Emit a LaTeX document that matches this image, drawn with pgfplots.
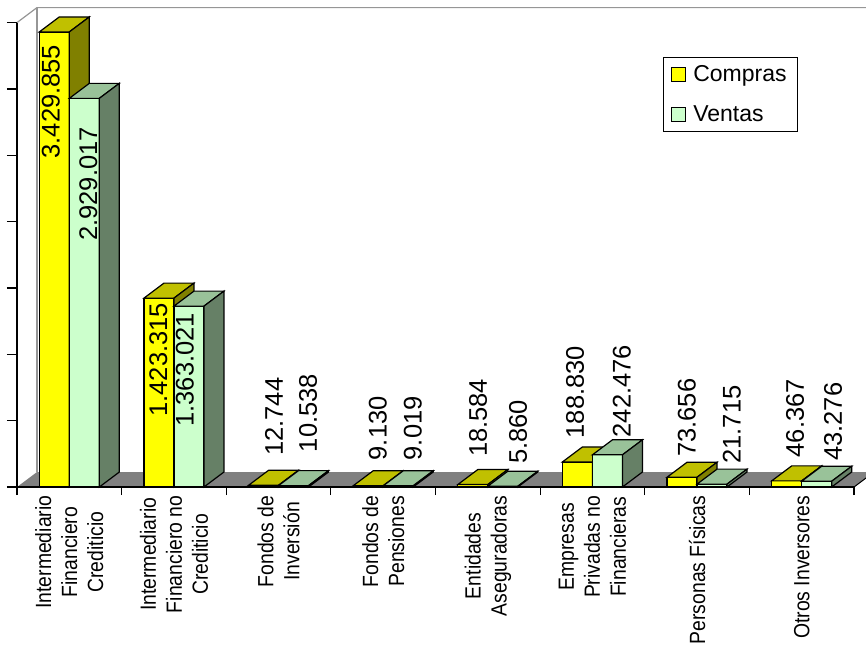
\documentclass[border=0pt]{standalone}
\usepackage{pgfplots}
\pgfplotsset{compat=1.18}
\usepackage{pgfplotstable}
\usepackage{fontspec}
\setmainfont{Liberation Sans}
\newfontfamily\narrowfont[FakeStretch=0.88]{Liberation Sans}

\definecolor{yfront}{RGB}{255,255,0}
\definecolor{ytop}{RGB}{192,192,0}
\definecolor{yside}{RGB}{128,128,0}
\definecolor{gfront}{RGB}{204,255,204}
\definecolor{gtop}{RGB}{153,194,153}
\definecolor{gside}{RGB}{102,128,102}
\definecolor{floorgray}{RGB}{128,128,128}
\definecolor{wallgray}{RGB}{150,150,150}

% x: category, y: value (thousands), lbl: label, dx/dy: label offset in pt
\pgfplotstableread{
x y        lbl       dx    dy
0 3429.855 3.429.855 -18.5 -127
1 1423.315 1.423.315 -15.5 -119
2 12.744   12.744    -4.5  29
3 9.130    9.130     -5.4  25
4 18.584   18.584    -9.7  27
5 188.830  188.830   -17.3 23
6 73.656   73.656    -10.2 20
7 46.367   46.367    -6.5  23
}\compras
\pgfplotstableread{
x y        lbl       dx   dy
0 2929.017 2.929.017 19   -143
1 1363.021 1.363.021 11   -121
2 10.538   10.538    29.5 33
3 9.019    9.019     29.6 25
4 5.860    5.860     30.3 22
5 242.476  242.476   29.4 17
6 21.715   21.715    34.8 20
7 43.276   43.276    31.5 20
}\ventas

% a whole 3-d bar (front, top, side) drawn from its top; height from the value
\newcommand\boxfaces[4]{%
  \pgfmathsetmacro\hh{\valy*0.132686}%
  \pgfsetlinewidth{1.2pt}\pgfsetstrokecolor{black}%
  \pgfsetfillcolor{#2}%
  \pgfpathrectangle{\pgfpoint{#1pt}{-\hh pt}}{\pgfpoint{30pt}{\hh pt}}%
  \pgfusepath{fill,stroke}%
  \pgfsetfillcolor{#3}%
  \pgfpathmoveto{\pgfpoint{#1pt}{0pt}}%
  \pgfpathlineto{\pgfpoint{#1pt+30pt}{0pt}}%
  \pgfpathlineto{\pgfpoint{#1pt+50pt}{15pt}}%
  \pgfpathlineto{\pgfpoint{#1pt+20pt}{15pt}}%
  \pgfpathclose
  \pgfusepath{fill,stroke}%
  \pgfsetfillcolor{#4}%
  \pgfpathmoveto{\pgfpoint{#1pt+30pt}{0pt}}%
  \pgfpathlineto{\pgfpoint{#1pt+50pt}{15pt}}%
  \pgfpathlineto{\pgfpoint{#1pt+50pt}{15pt-\hh pt}}%
  \pgfpathlineto{\pgfpoint{#1pt+30pt}{-\hh pt}}%
  \pgfpathclose
  \pgfusepath{fill,stroke}%
}
\pgfdeclareplotmark{ybox}{\boxfaces{-30}{yfront}{ytop}{yside}}
\pgfdeclareplotmark{gbox}{\boxfaces{0}{gfront}{gtop}{gside}}

\pgfplotsset{
  boxes/.style={scatter, only marks, mark=#1, forget plot,
    scatter/@pre marker code/.code={}, scatter/@post marker code/.code={},
    point meta=explicit symbolic, nodes near coords,
    visualization depends on={\thisrow{y} \as \valy},
    visualization depends on={\thisrow{dx} \as \ldx},
    visualization depends on={\thisrow{dy} \as \ldy},
    every node near coord/.append style={font=\fontsize{25.5}{30}\selectfont,
      black, inner sep=0pt, xshift=\ldx pt, yshift=\ldy pt, rotate=90,
      anchor=west}},
}

\begin{document}
\begin{tikzpicture}
\useasboundingbox (0,0) rectangle (866pt,648pt);
\begin{axis}[
  at={(17pt,161pt)}, anchor=south west,
  scale only axis, width=837pt, height=464.4pt,
  xmin=-0.5, xmax=7.5, ymin=0, ymax=3500,
  clip=false, axis on top,
  axis lines*=left,
  axis line style={black, line width=1.2pt},
  xtick={0,...,7},
  xticklabels={{Intermediario\\Financiero\\Crediticio},
    {Intermediario\\Financiero no\\Crediticio},
    {Fondos de\\Inversión}, {Fondos de\\Pensiones},
    {Entidades\\Aseguradoras}, {Empresas\\Privadas no\\Financieras},
    {Personas Físicas}, {Otros Inversores}},
  minor xtick={-0.5,0.5,...,7.5},
  ytick={0,500,...,3500}, yticklabels={},
  tick align=outside,
  major tick length=10pt, minor tick length=8pt,
  tick style={black, line width=1.2pt},
  major x tick style={draw=none},
  xticklabel style={yshift=1.5pt, inner sep=0pt, rotate=90, anchor=east,
    align=center, font=\narrowfont\fontsize{22}{26}\selectfont},
  legend cell align=left,
  legend style={at={(0.9331,0.926)}, anchor=north east, draw=black,
    line width=0.8pt, font=\fontsize{23}{27}\selectfont,
    inner xsep=8pt, inner ysep=5pt, row sep=17pt, nodes={inner sep=3pt}},
]
% floor and walls
\fill[floorgray] (rel axis cs:0,0) -- (rel axis cs:1,0)
  -- ([shift={(20pt,15pt)}]rel axis cs:1,0)
  -- ([shift={(20pt,15pt)}]rel axis cs:0,0) -- cycle;
\draw[black, line width=1pt] (rel axis cs:1,0) -- ([shift={(20pt,15pt)}]rel axis cs:1,0);
\draw[wallgray, line width=1.2pt] (rel axis cs:0,1)
  -- ([shift={(20pt,15pt)}]rel axis cs:0,1)
  -- ([shift={(20pt,15pt)}]rel axis cs:1,1);
\draw[wallgray, line width=1.2pt] ([shift={(20pt,15pt)}]rel axis cs:0,1)
  -- ([shift={(20pt,15pt)}]rel axis cs:0,0);

\addplot[ybar, bar width=30pt, bar shift=-15pt, fill=yfront, draw=black,
  line width=1.2pt,
  legend image code/.code={\draw[fill=yfront, draw=black, line width=1.2pt]
    (0pt,-7pt) rectangle (14pt,7pt); \path (18pt,0pt);}]
  table[x=x, y=y]{\compras};
\addlegendentry{Compras}
\addplot[boxes=ybox] table[x=x, y=y, meta=lbl]{\compras};

\addplot[ybar, bar width=30pt, bar shift=15pt, fill=gfront, draw=black,
  line width=1.2pt,
  legend image code/.code={\draw[fill=gfront, draw=black, line width=1.2pt]
    (0pt,-7pt) rectangle (14pt,7pt); \path (18pt,0pt);}]
  table[x=x, y=y]{\ventas};
\addlegendentry{Ventas}
\addplot[boxes=gbox] table[x=x, y=y, meta=lbl]{\ventas};
\end{axis}
\end{tikzpicture}
\end{document}
